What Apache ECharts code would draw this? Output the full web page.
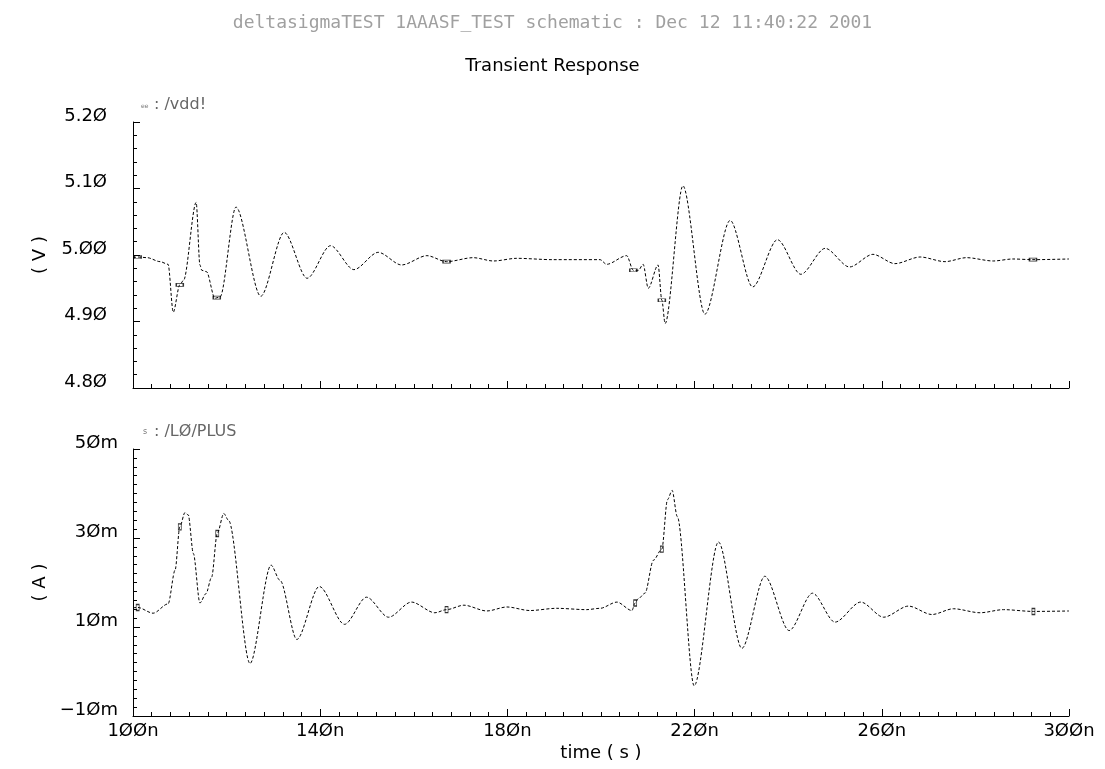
<!DOCTYPE html>
<html>
<head>
<meta charset="utf-8">
<script src="https://cdn.jsdelivr.net/npm/echarts@6/dist/echarts.min.js"></script>
<style>
html,body{margin:0;padding:0;background:#fff;}
#chart{width:1105px;height:769px;}
</style>
</head>
<body>
<div id="chart"></div>
<script>
// ---- data (time in ns) ----
var vddTime = [100,101,103,105.8,107.5,108.6,110,110.8,113.5,114.3,114.7,115.7,117.5,118.6,122,127.3,132.3,137.2,142.2,147.2,152.4,157.4,162.8,167,172.7,177,182,189.6,199.8,201.2,205.5,206.9,208,209,210.1,212.2,213,213.7,217.5,222.2,227.6,232.4,237.7,242.7,247.9,253.1,258.1,262.8,268.2,273.5,278.1,283.8,288,292.3,300];
var vddVolt = [4.996,4.997,4.996,4.990,4.986,4.914,4.955,4.962,5.079,4.985,4.977,4.975,4.935,4.937,5.072,4.938,5.034,4.965,5.014,4.978,5.004,4.985,4.999,4.990,4.996,4.991,4.995,4.993,4.993,4.986,4.999,4.977,4.977,4.986,4.950,4.985,4.932,4.897,5.104,4.911,5.052,4.952,5.023,4.971,5.010,4.982,5.001,4.987,4.997,4.990,4.996,4.991,4.994,4.993,4.994];

var plusTime = [100,101,104.3,107.5,109,110,111.1,111.8,112.9,114.3,115.6,116.8,118,119.4,120.4,125,129.5,131.4,135,139.8,145.2,149.9,154.6,159.5,164.5,167,170.7,175.6,179.9,184.8,190.5,196.9,199.8,203.4,206.6,207.3,208,209.4,211.2,213,214.2,215.2,216.3,219.9,225.1,230.1,235,240.2,245.2,250,255.5,260.4,265.7,270.7,275.3,281,286,292.4,300];
var plusMilliAmp = [14.3,14.4,13.1,15.2,22.8,32.5,35.7,35.2,26.5,15.4,17.5,21.2,31.0,35.5,34.0,1.8,23.9,20.5,7.2,19.1,10.6,16.7,12.2,15.6,13.2,13.9,14.9,13.6,14.5,13.7,14.2,13.9,14.2,15.6,13.7,15.4,16.4,17.6,25.0,27.5,38.6,40.7,34.8,-3.2,29.1,5.2,21.4,9.2,17.6,11.1,15.6,12.2,14.7,12.8,14.1,13.2,13.9,13.5,13.6];

// small plot markers seen on the traces
var vddMarkTime = [101,110,117.9,167,206.9,213,292.3];
var vddMarkVolt = [4.997,4.955,4.936,4.990,4.977,4.932,4.993];
var plusMarkTime = [101,110,118,167,207.3,213,292.4];
var plusMarkMilliAmp = [14.4,32.5,31.0,13.9,15.4,27.5,13.5];

var titleTop = 'deltasigmaTEST 1AAASF_TEST schematic : Dec 12 11:40:22 2001';
var titleMain = 'Transient Response';
var vddLabel = ': /vdd!';
var plusLabel = ': /L\u00D8/PLUS';

function pairs(xs, ys){ return xs.map(function(x,i){ return [x, ys[i]]; }); }
function slashZero(s){ return String(s).replace(/0/g,'\u00D8'); }

var FONT = 'DejaVu Sans';
var tickStyle = {show:true, inside:true, length:7, lineStyle:{color:'#000', width:1}};
var minorStyle = {show:true, length:4, lineStyle:{color:'#000', width:1}};
var axisLineStyle = {show:true, onZero:false, lineStyle:{color:'#000', width:1}};
var traceStyle = {color:'#000', width:1, type:[3,2]};

var chart = echarts.init(document.getElementById('chart'), null, {renderer:'canvas'});
chart.setOption({
  animation:false,
  backgroundColor:'#fff',
  title:[
    {text:titleTop, left:'center', top:9, textStyle:{fontFamily:'DejaVu Sans Mono', fontSize:18, fontWeight:'normal', color:'#a0a0a0'}},
    {text:titleMain, left:'center', top:52, textStyle:{fontFamily:FONT, fontSize:18, fontWeight:'normal', color:'#000'}}
  ],
  graphic:[
    {type:'text', left:141, top:103, style:{text:'ee', fontSize:6, fontFamily:FONT, fill:'#777'}},
    {type:'text', left:154, top:97, style:{text:vddLabel, fontSize:16, fontFamily:FONT, fill:'#666'}},
    {type:'text', left:143, top:428, style:{text:'s', fontSize:8, fontFamily:FONT, fill:'#777'}},
    {type:'text', left:154, top:424, style:{text:plusLabel, fontSize:16, fontFamily:FONT, fill:'#666'}}
  ],
  grid:[
    {left:133, right:36, top:122, height:266},
    {left:133, right:36, top:449, height:267}
  ],
  xAxis:[
    {type:'value', gridIndex:0, min:100, max:300, interval:40,
     axisLine:axisLineStyle, axisTick:tickStyle, minorTick:Object.assign({splitNumber:10}, minorStyle),
     axisLabel:{show:false}, splitLine:{show:false}},
    {type:'value', gridIndex:1, min:100, max:300, interval:40,
     name:'time ( s )', nameLocation:'middle', nameGap:28,
     nameTextStyle:{fontFamily:FONT, fontSize:18, color:'#000'},
     axisLine:axisLineStyle, axisTick:tickStyle, minorTick:Object.assign({splitNumber:10}, minorStyle),
     axisLabel:{show:true, margin:6, fontFamily:FONT, fontSize:18, color:'#000',
       formatter:function(v){ return slashZero(Math.round(v)) + 'n'; }},
     splitLine:{show:false}}
  ],
  yAxis:[
    {type:'value', gridIndex:0, min:4.8, max:5.2, interval:0.1,
     name:'( V )', nameLocation:'middle', nameGap:84, nameRotate:90,
     nameTextStyle:{fontFamily:FONT, fontSize:18, color:'#000'},
     axisLine:axisLineStyle, axisTick:tickStyle, minorTick:Object.assign({splitNumber:5}, minorStyle),
     axisLabel:{show:true, margin:26, fontFamily:FONT, fontSize:18, color:'#000', verticalAlign:'bottom', lineHeight:12,
       formatter:function(v){ return slashZero(v.toFixed(2)); }},
     splitLine:{show:false}},
    {type:'value', gridIndex:1, min:-10, max:50, interval:20,
     name:'( A )', nameLocation:'middle', nameGap:84, nameRotate:90,
     nameTextStyle:{fontFamily:FONT, fontSize:18, color:'#000'},
     axisLine:axisLineStyle, axisTick:tickStyle, minorTick:Object.assign({splitNumber:10}, minorStyle),
     axisLabel:{show:true, margin:15, fontFamily:FONT, fontSize:18, color:'#000', verticalAlign:'bottom', lineHeight:12,
       formatter:function(v){ return (v < 0 ? '\u2212' : '') + slashZero(Math.abs(Math.round(v))) + 'm'; }},
     splitLine:{show:false}}
  ],
  series:[
    {type:'line', xAxisIndex:0, yAxisIndex:0, data:pairs(vddTime, vddVolt), showSymbol:false, smooth:0.3, smoothMonotone:'x', lineStyle:traceStyle, silent:true},
    {type:'line', xAxisIndex:1, yAxisIndex:1, data:pairs(plusTime, plusMilliAmp), showSymbol:false, smooth:0.3, smoothMonotone:'x', lineStyle:traceStyle, silent:true},
    {type:'scatter', xAxisIndex:0, yAxisIndex:0, data:pairs(vddMarkTime, vddMarkVolt), symbol:'rect', symbolSize:[7,3], itemStyle:{color:'transparent', borderColor:'#000', borderWidth:1}, silent:true},
    {type:'scatter', xAxisIndex:1, yAxisIndex:1, data:pairs(plusMarkTime, plusMarkMilliAmp), symbol:'rect', symbolSize:[3,6], itemStyle:{color:'transparent', borderColor:'#000', borderWidth:1}, silent:true}
  ]
});
</script>
</body>
</html>
